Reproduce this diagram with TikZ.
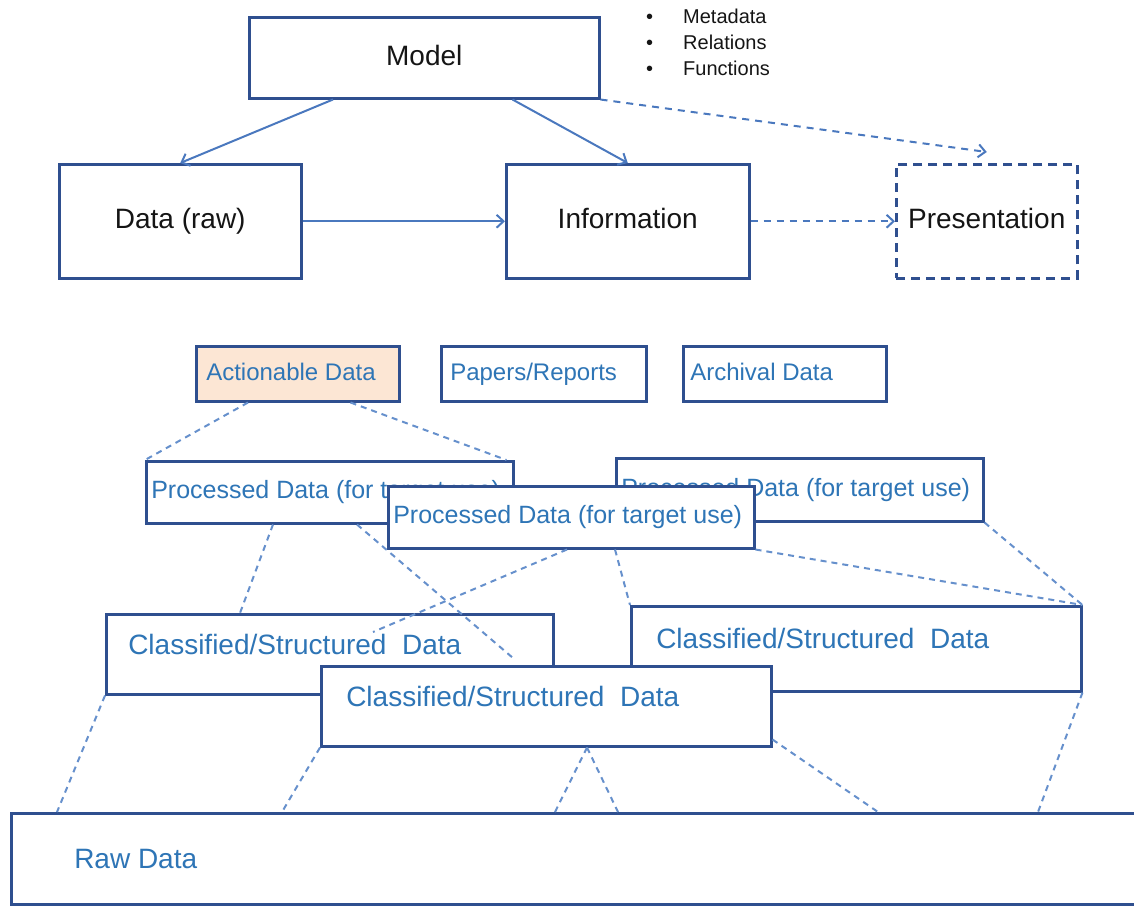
\documentclass[tikz,border=0pt]{standalone}
\usepackage{fontspec}
\setmainfont{Liberation Sans}
\usetikzlibrary{arrows.meta,calc}
\definecolor{boxblue}{HTML}{2F4F8F}
\definecolor{linkblue}{HTML}{4A78BE}
\definecolor{dashblue}{HTML}{6690CC}
\definecolor{txtblue}{HTML}{2E75B6}
\definecolor{peach}{HTML}{FCE6D4}
\definecolor{txtdark}{HTML}{151515}
\newcommand\lbx[2]{\makebox[#1][l]{#2}}
\begin{document}
\begin{tikzpicture}[x=1pt,y=-1pt,
 bx/.style={draw=boxblue, line width=2.5pt, fill=white, anchor=north west, inner ysep=0pt},
 topbx/.style={bx, inner xsep=0pt, font=\fontsize{28}{32}\selectfont, text=txtdark, text height=21pt, text depth=6pt},
 dashbox/.style={dash pattern=on 9pt off 6pt},
 lowbx/.style={bx, text=txtblue},
 fsmall/.style={font=\fontsize{24}{28}\selectfont, text height=18pt, text depth=5pt},
 fproc/.style={font=\fontsize{25}{29}\selectfont},
 fclass/.style={font=\fontsize{28}{32}\selectfont},
 raised/.style={text height=20pt, text depth=20pt},
 link/.style={draw=linkblue, line width=2pt, -{Straight Barb[length=7pt,width=13pt]}},
 dlink/.style={link, dash pattern=on 7pt off 6pt},
 dl/.style={draw=dashblue, line width=2pt, dash pattern=on 6pt off 5pt},
]
\useasboundingbox (0,0) rectangle (1134,906);

% ---- top part ----
\node[topbx, minimum width=350, minimum height=81] (model) at (248,16) {Model};
\node[topbx, minimum width=242, minimum height=114] (data) at (58,163) {Data (raw)};
\node[topbx, minimum width=243, minimum height=114] (info) at (505,163) {Information};
\node[topbx, dashbox, minimum width=181, minimum height=114] (pres) at (895,163) {Presentation};

\node[anchor=north west, align=left, inner sep=0pt, text=txtdark,
      font=\fontsize{20}{26}\selectfont] (bul) at (646,9)
  {\lbx{37pt}{\textbullet}Metadata\\\lbx{37pt}{\textbullet}Relations\\\lbx{37pt}{\textbullet}Functions};

\draw[link] ($(model.south west)+(85,0)$) -- (data.north);
\draw[link] ($(model.south east)+(-88,0)$) -- (info.north);
\draw[link] (data.east) -- (info.west);
\draw[dlink] (info.east) -- (pres.west);
\coordinate (presin) at ($(pres.north)+(0,-11)$);
\draw[dlink] (model.south east) -- (presin);

% ---- top row of lower part ----
\node[lowbx, fill=peach, fsmall, minimum width=203, minimum height=55, inner xsep=10pt] (act) at (195,345) {\lbx{183pt}{Actionable Data}};
\node[lowbx, fsmall, minimum width=205, minimum height=55, inner xsep=9pt] (pap) at (440,345) {\lbx{187pt}{Papers/Reports}};
\node[lowbx, fsmall, minimum width=203, minimum height=55, inner xsep=7pt] (arc) at (682,345) {\lbx{189pt}{Archival Data}};

% ---- processed data ----
\node[lowbx, fproc, minimum width=367, minimum height=62, inner xsep=5pt] (p1) at (145,460) {\lbx{357pt}{Processed Data (for target use)}};
\node[lowbx, fproc, minimum width=367, minimum height=63, inner xsep=5pt] (p2) at (615,457) {\lbx{357pt}{Processed Data (for target use)}};
\draw[dl] ($(act.south west)+(53,0)$) -- (p1.north west);
\draw[dl] ($(act.south east)+(-50,0)$) -- ($(p1.north east)+(-8,0)$);
\node[lowbx, fproc, minimum width=366, minimum height=62, inner xsep=5pt] (p3) at (387,485) {\lbx{356pt}{Processed Data (for target use)}};

% ---- classified data ----
\node[lowbx, fclass, raised, minimum width=447, minimum height=80, inner xsep=22pt] (c1) at (105,613) {\lbx{403pt}{Classified/Structured~ Data}};
\node[lowbx, fclass, raised, minimum width=450, minimum height=85, inner xsep=25pt] (c2) at (630,605) {\lbx{400pt}{Classified/Structured~ Data}};

\coordinate (c1x) at ($(c1.north west)+(268,19)$);
\draw[dl] ($(p1.south west)+(128,0)$) -- ($(c1.north west)+(135,0)$);
\draw[dl] ($(p3.south west)+(180,0)$) -- (c1x);
\draw[dl] ($(p3.south west)+(228,0)$) -- (c2.north west);
\draw[dl] (p3.south east) -- (c2.north east);
\draw[dl] (p2.south east) -- (c2.north east);

\node[lowbx, fclass, raised, minimum width=450, minimum height=80, inner xsep=25pt] (c3) at (320,665) {\lbx{400pt}{Classified/Structured~ Data}};
\coordinate (c3in) at ($(c3.north west)+(193,-7)$);
\draw[dl] ($(p1.south west)+(212,0)$) -- (c3in);

% ---- raw data ----
\node[lowbx, fclass, minimum width=1140, minimum height=91, inner xsep=63pt] (raw) at (10,812) {\lbx{1014pt}{Raw Data}};

\draw[dl] (c1.south west) -- ($(raw.north west)+(47,0)$);
\draw[dl] (c3.south west) -- ($(raw.north west)+(272,0)$);
\draw[dl] ($(c3.south west)+(267,0)$) -- ($(raw.north west)+(545,0)$);
\draw[dl] ($(c3.south west)+(267,0)$) -- ($(raw.north west)+(608,0)$);
\draw[dl] ($(c3.south east)+(0,-8)$) -- ($(raw.north west)+(868,0)$);
\draw[dl] (c2.south east) -- ($(raw.north west)+(1028,0)$);
\end{tikzpicture}
\end{document}
